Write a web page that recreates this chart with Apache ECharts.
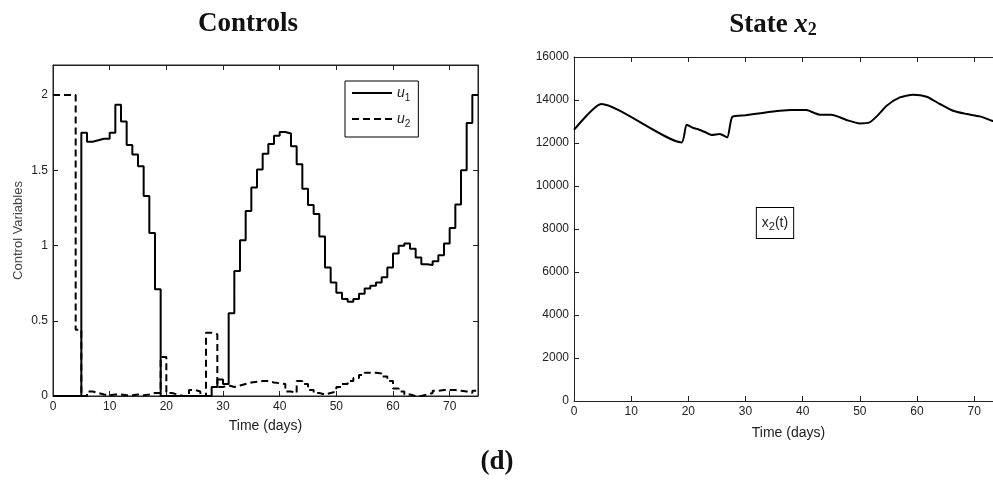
<!DOCTYPE html>
<html>
<head>
<meta charset="utf-8">
<script src="https://cdn.jsdelivr.net/npm/echarts@6/dist/echarts.min.js"></script>
<style>
  html, body { margin: 0; padding: 0; background: #fff; }
  #chart { width: 993px; height: 483px; }
</style>
</head>
<body>
<div id="chart"></div>
<script>
// Controls u1 / u2, one value per day (day = index), held until the next day
var u1 = [0, 0, 0, 0, 0, 1.75, 1.69, 1.70, 1.71, 1.71,
  1.75, 1.935, 1.825, 1.668, 1.605, 1.527, 1.33, 1.084, 0.71, 0,
  0, 0, 0, 0, 0, 0, 0, 0, 0.06, 0.11,
  0.08, 0.55, 0.83, 1.035, 1.23, 1.385, 1.505, 1.61, 1.675, 1.73,
  1.755, 1.745, 1.66, 1.54, 1.377, 1.27, 1.21, 1.06, 0.854, 0.754,
  0.686, 0.644, 0.626, 0.644, 0.68, 0.715, 0.732, 0.754, 0.79, 0.854,
  0.947, 0.998, 1.013, 0.978, 0.92, 0.876, 0.87, 0.896, 0.936, 1.013,
  1.117, 1.272, 1.5, 1.814, 2.0, 2.0];
var u2 = [2, 2, 2, 2, 0.44, 0, 0.03, 0.02, 0.01, 0.005,
  0.01, 0.01, 0.005, 0.005, 0.01, 0.005, 0.01, 0.02, 0.02, 0.26,
  0.02, 0.01, 0, 0, 0.04, 0.03, 0, 0.42, 0.41, 0.06,
  0.07, 0.06, 0.07, 0.08, 0.09, 0.095, 0.1, 0.1, 0.09, 0.085,
  0.08, 0.03, 0.02, 0.1, 0.08, 0.04, 0.02, 0.01, 0.02, 0.03,
  0.06, 0.08, 0.1, 0.12, 0.14, 0.155, 0.155, 0.15, 0.13, 0.1,
  0.05, 0.03, 0.01, 0, 0, 0.01, 0.02, 0.035, 0.04, 0.04,
  0.04, 0.035, 0.03, 0.02, 0.035, 0.035];

// State x2
var x2Time = [0, 4.8, 18.8, 19.7, 20.9, 21.7, 23, 24.1, 25.5, 26.8, 27.7, 30, 33, 36, 38,
  40.7, 42, 43, 45, 46.5, 47.7, 50, 51.7, 53, 54.7, 57, 59.3, 61.7, 64, 66.3, 68.7, 71, 73.1, 75];
var x2Value = [12605, 13814, 12028, 12850, 12698, 12640, 12500, 12372, 12419, 12260, 13223, 13290, 13400, 13500, 13540,
  13530, 13400, 13316, 13316, 13200, 13070, 12912, 12958, 13250, 13735, 14121, 14246, 14153, 13814, 13502, 13349, 13237, 13037, 12900];

var timeTicks = [0, 10, 20, 30, 40, 50, 60, 70];
var controlTicks = [0, 0.5, 1, 1.5, 2];
var stateTicks = [0, 2000, 4000, 6000, 8000, 10000, 12000, 14000, 16000];

function pairs(xs, ys) {
  return ys.map(function(v, i) { return [xs ? xs[i] : i, v]; });
}

function onlyTicks(list) {
  return function(v) { return list.indexOf(v) >= 0 ? String(v) : ''; };
}

var AX = '#222';
var SANS = 'Liberation Sans, Arial, sans-serif';
function axis(list, showLabels, extra) {
  var a = {
    type: 'value',
    axisLine: { show: true, onZero: false, lineStyle: { color: AX, width: 1 } },
    axisTick: { show: true, inside: true, length: 5, customValues: list, lineStyle: { color: AX } },
    axisLabel: { show: showLabels, color: AX, fontSize: 12, fontFamily: SANS, margin: 5,
      customValues: list, formatter: onlyTicks(list) },
    splitLine: { show: false },
    nameTextStyle: { color: AX, fontSize: 14, fontFamily: SANS }
  };
  for (var k in extra) a[k] = extra[k];
  return a;
}

var chart = echarts.init(document.getElementById('chart'));
chart.setOption({
  animation: false,
  backgroundColor: '#fff',
  grid: [
    { left: 53, right: 515, top: 65, bottom: 87, show: true, borderColor: AX, borderWidth: 1 },
    { left: 574, right: 0, top: 57, bottom: 82 }
  ],
  xAxis: [
    axis(timeTicks, true, { gridIndex: 0, position: 'bottom', min: 0, max: 75, interval: 10,
      name: 'Time (days)', nameLocation: 'middle', nameGap: 23 }),
    axis(timeTicks, false, { gridIndex: 0, position: 'top', min: 0, max: 75, interval: 10 }),
    // the right panel is cut off by the page edge a little before day 74
    axis(timeTicks, true, { gridIndex: 1, position: 'bottom', min: 0, max: 73.3, interval: 10,
      name: 'Time (days)', nameLocation: 'middle', nameGap: 25,
      nameTextStyle: { color: AX, fontSize: 14, fontFamily: SANS, padding: [0, 0, 0, 10] } }),
    axis(timeTicks, false, { gridIndex: 1, position: 'top', min: 0, max: 73.3, interval: 10 })
  ],
  yAxis: [
    axis(controlTicks, true, { gridIndex: 0, position: 'left', min: 0, max: 2.2, interval: 0.5,
      name: 'Control Variables', nameLocation: 'middle', nameGap: 28, nameRotate: 90,
      nameTextStyle: { color: '#444', fontSize: 13, fontFamily: SANS } }),
    axis(controlTicks, false, { gridIndex: 0, position: 'right', min: 0, max: 2.2, interval: 0.5 }),
    axis(stateTicks, true, { gridIndex: 1, position: 'left', min: 0, max: 16000, interval: 2000 })
  ],
  legend: {
    data: ['u1', 'u2'],
    left: 345, top: 81,
    orient: 'vertical',
    backgroundColor: '#fff',
    borderColor: '#000', borderWidth: 1, borderRadius: 0,
    padding: [5, 8, 8, 6],
    itemWidth: 40, itemHeight: 12, itemGap: 9,
    itemStyle: { opacity: 0 },
    formatter: function(name) { return '{i|' + name.charAt(0) + '}{s|' + name.charAt(1) + '}'; },
    textStyle: {
      color: '#222',
      rich: {
        i: { fontSize: 14, fontStyle: 'italic', fontFamily: SANS, lineHeight: 20, verticalAlign: 'middle' },
        s: { fontSize: 10, fontFamily: SANS, lineHeight: 10, verticalAlign: 'bottom' }
      }
    }
  },
  graphic: [
    { type: 'text', x: 248, y: 24, style: { text: 'Controls', align: 'center', verticalAlign: 'middle',
      font: 'bold 27px "Liberation Serif", serif', fill: '#111' } },
    { type: 'text', x: 773, y: 24, style: { text: '{a|State }{b|x}{c|2}', align: 'center', verticalAlign: 'middle', fill: '#111',
      rich: {
        a: { fontSize: 27, fontWeight: 'bold', fontFamily: 'Liberation Serif', lineHeight: 30, verticalAlign: 'bottom' },
        b: { fontSize: 27, fontWeight: 'bold', fontStyle: 'italic', fontFamily: 'Liberation Serif', lineHeight: 30, verticalAlign: 'bottom' },
        c: { fontSize: 18, fontWeight: 'bold', fontFamily: 'Liberation Serif', lineHeight: 22, verticalAlign: 'bottom' }
      } } },
    { type: 'text', x: 497, y: 462, style: { text: '(d)', align: 'center', verticalAlign: 'middle',
      font: 'bold 27px "Liberation Serif", serif', fill: '#111' } },
    { type: 'text', x: 775, y: 223, z: 10, style: { text: '{a|x}{s|2}{a|(t)}', align: 'center', verticalAlign: 'middle', fill: '#222',
      backgroundColor: '#fff', borderColor: '#000', borderWidth: 1, padding: [6, 5, 6, 5],
      rich: {
        a: { fontSize: 14, fontFamily: SANS, lineHeight: 18, verticalAlign: 'middle' },
        s: { fontSize: 11, fontFamily: SANS, lineHeight: 10, verticalAlign: 'bottom' }
      } } }
  ],
  series: [
    { name: 'u1', type: 'line', xAxisIndex: 0, yAxisIndex: 0, step: 'end', symbol: 'none',
      data: pairs(null, u1), lineStyle: { color: '#000', width: 2 }, itemStyle: { color: '#000' } },
    { name: 'u2', type: 'line', xAxisIndex: 0, yAxisIndex: 0, step: 'end', symbol: 'none',
      data: pairs(null, u2), lineStyle: { color: '#000', width: 2, type: [7, 4] }, itemStyle: { color: '#000' } },
    { name: 'x2', type: 'line', xAxisIndex: 2, yAxisIndex: 2, smooth: 0.2, symbol: 'none',
      data: pairs(x2Time, x2Value), lineStyle: { color: '#000', width: 2 } }
  ]
});
</script>
</body>
</html>
